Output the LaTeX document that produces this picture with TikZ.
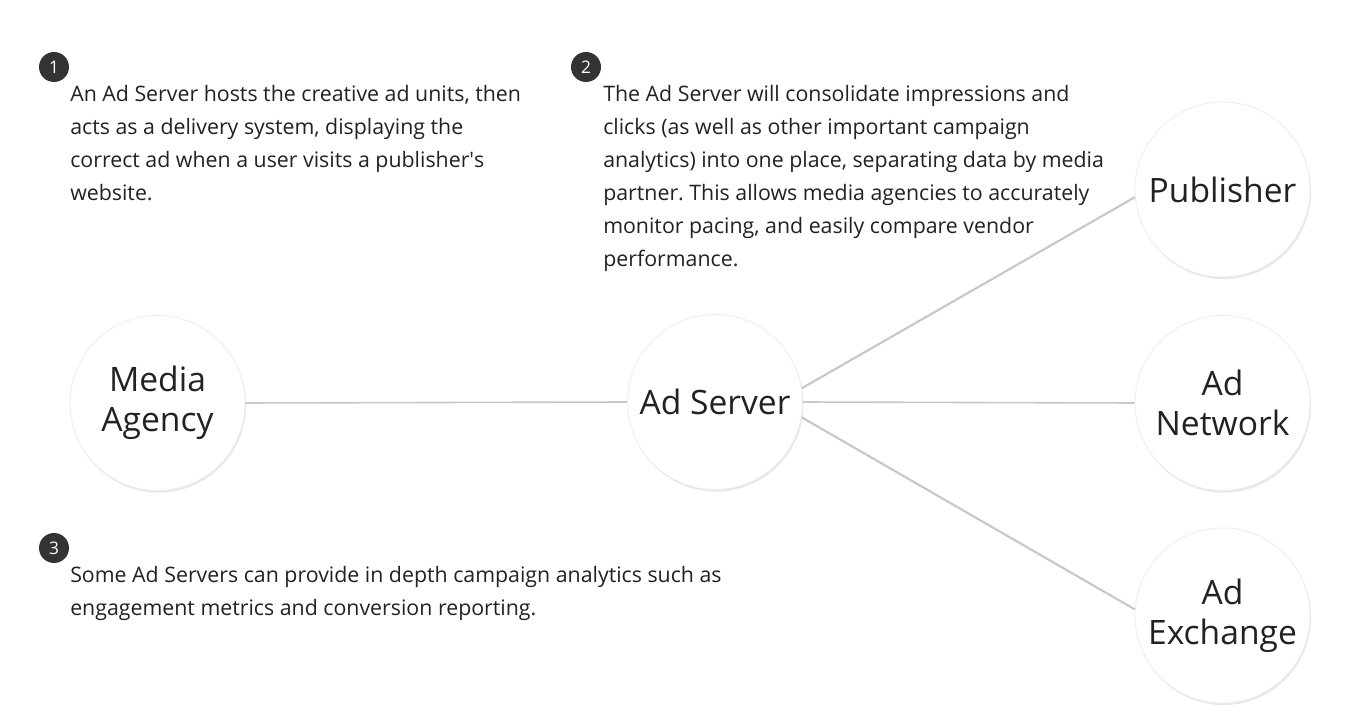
\documentclass[tikz,border=0pt]{standalone}
\usepackage{fontspec}
\setmainfont{Open Sans}
\usetikzlibrary{shadows}
\frenchspacing
\definecolor{linegray}{HTML}{C8C8C8}
\definecolor{badgegray}{HTML}{333333}
\definecolor{txt}{HTML}{222222}
\tikzset{
  x=0.75pt, y=-0.75pt,
  bigcirc/.style={circle, fill=white, draw=black!7, line width=0.6pt, minimum size=131.25pt, inner sep=0pt,
    align=center, text=txt, font=\fontsize{25.2}{30}\selectfont,
    drop shadow={opacity=0.18, shadow xshift=0.8pt, shadow yshift=-1.6pt}},
  badge/.style={circle, fill=badgegray, minimum size=22.5pt, inner sep=0pt, text=white,
    font=\fontsize{13}{13}\selectfont},
  para/.style={anchor=north west, align=left, inner sep=0pt, text=txt,
    font=\fontsize{16}{24.75}\selectfont},
  conn/.style={draw=linegray, line width=1.6pt},
  connthin/.style={draw=linegray, line width=1.2pt}
}
\begin{document}
\begin{tikzpicture}
\useasboundingbox[fill=white] (0,0) rectangle (1353,712);

% circles
\node[bigcirc] (ma) at (157.5,403) {Media\\Agency};
\node[bigcirc] (as) at (715,402) {Ad Server};
\node[bigcirc] (pub) at (1222.5,189.5) {Publisher};
\node[bigcirc] (an) at (1222.5,403) {Ad\\Network};
\node[bigcirc] (ax) at (1222.5,615.5) {Ad\\Exchange};

% connectors
\draw[connthin] (ma.east) -- (as.west);
\draw[connthin] (as.east) -- (an.west);
\draw[conn] (as.9) -- (pub.185);
\draw[conn] (as.-10) -- (ax.176);

% badges
\node[badge] (b1) at (54,67) {1};
\node[badge] (b2) at (586,67) {2};
\node[badge] (b3) at (54,548) {3};

% paragraphs
\node[para] (p1) at (70,85) {An Ad Server hosts the creative ad units, then\\
acts as a delivery system, displaying the\\
correct ad when a user visits a publisher\textquotesingle s\\
website.};
\node[para] (p2) at (603,85) {The Ad Server will consolidate impressions and\\
clicks (as well as other important campaign\\
analytics) into one place, separating data by media\\
partner. This allows media agencies to accurately\\
monitor pacing, and easily compare vendor\\
performance.};
\node[para] (p3) at (70,566) {Some Ad Servers can provide in depth campaign analytics such as\\
engagement metrics and conversion reporting.};
\end{tikzpicture}
\end{document}
